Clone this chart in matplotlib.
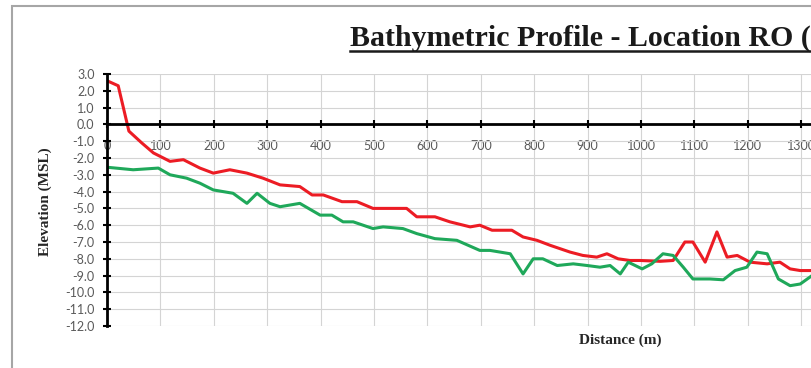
import matplotlib
matplotlib.use("Agg")
import matplotlib.pyplot as plt
from matplotlib.patches import Rectangle
from matplotlib.lines import Line2D

plt.rcParams['axes.unicode_minus'] = False

# Data (distance in m, elevation in m MSL)
red_x = [0, 21, 41, 65, 87, 118, 143, 174, 199, 230, 262, 292, 324, 361, 384, 405, 440, 468,
         498, 561, 580, 614, 642, 680, 698, 721, 758, 779, 805, 830, 867, 891, 917, 936, 957,
         979, 998, 1036, 1060, 1082, 1097, 1120, 1142, 1161, 1180, 1204, 1236, 1260, 1279,
         1298, 1320]
red_y = [2.6, 2.3, -0.4, -1.1, -1.7, -2.2, -2.1, -2.6, -2.9, -2.7, -2.9, -3.2, -3.6, -3.7,
         -4.2, -4.2, -4.6, -4.6, -5.0, -5.0, -5.5, -5.5, -5.8, -6.1, -6.0, -6.3, -6.3, -6.7,
         -6.9, -7.2, -7.6, -7.8, -7.9, -7.7, -8.0, -8.1, -8.1, -8.15, -8.1, -7.0, -7.0, -8.2,
         -6.4, -7.9, -7.8, -8.2, -8.3, -8.2, -8.6, -8.7, -8.7]

green_x = [0, 49, 96, 118, 149, 174, 199, 236, 262, 281, 305, 324, 361, 399, 421, 442, 461,
           498, 517, 554, 580, 614, 655, 698, 717, 755, 779, 798, 816, 843, 873, 899, 923,
           942, 961, 976, 1002, 1020, 1041, 1060, 1079, 1097, 1129, 1154, 1176, 1198, 1217,
           1236, 1257, 1279, 1298, 1320]
green_y = [-2.55, -2.7, -2.6, -3.0, -3.2, -3.5, -3.9, -4.1, -4.7, -4.1, -4.7, -4.9, -4.7,
           -5.4, -5.4, -5.8, -5.8, -6.2, -6.1, -6.2, -6.5, -6.8, -6.9, -7.5, -7.5, -7.7,
           -8.9, -8.0, -8.0, -8.4, -8.3, -8.4, -8.5, -8.4, -8.9, -8.2, -8.6, -8.3, -7.7,
           -7.8, -8.5, -9.2, -9.2, -9.25, -8.7, -8.5, -7.6, -7.7, -9.2, -9.6, -9.5, -9.0]

x_ticks = list(range(0, 1400, 100))
y_ticks = [3.0, 2.0, 1.0, 0.0, -1.0, -2.0, -3.0, -4.0, -5.0, -6.0, -7.0, -8.0, -9.0,
           -10.0, -11.0, -12.0]

title_text = "Bathymetric Profile - Location RO ("
x_label = "Distance (m)"
y_label = "Elevation (MSL)"

W, H = 812, 368
fig = plt.figure(figsize=(W / 100, H / 100), dpi=100)

# outer chart frame
fig.patches.append(Rectangle((12 / W, -0.2), 1.5, 1.2 - 6 / H + 0.0, transform=fig.transFigure,
                             fill=False, edgecolor='#a6a6a6', linewidth=1.5))

ax = fig.add_axes([107 / W, (H - 326) / H, (W - 107) / W, (326 - 74) / H])
ax.set_xlim(0, 1320)
ax.set_ylim(-12, 3)

ax.plot(red_x, red_y, color='#ec1c24', lw=2.2, solid_joinstyle='round', zorder=3)
ax.plot(green_x, green_y, color='#1fa85a', lw=2.2, solid_joinstyle='round', zorder=3)

ax.set_xticks(x_ticks)
ax.set_yticks(y_ticks)
ax.set_xticklabels([str(t) for t in x_ticks])
ax.set_yticklabels(["%.1f" % t for t in y_ticks])
ax.grid(True, color='#d4d4d4', lw=0.8, zorder=0)
ax.set_axisbelow(True)

for s in ['top', 'right']:
    ax.spines[s].set_visible(False)
ax.spines['bottom'].set_position(('data', 0))
ax.spines['bottom'].set_linewidth(2)
ax.spines['left'].set_linewidth(2)
ax.spines['bottom'].set_zorder(4)
ax.spines['left'].set_zorder(4)

ax.tick_params(axis='both', direction='inout', length=6, width=1.5, color='black',
               labelcolor='#595959', labelsize=9)
ax.tick_params(axis='y', pad=6)
ax.tick_params(axis='x', pad=8)
for lab in ax.get_xticklabels() + ax.get_yticklabels():
    lab.set_family('Lato')

fig.text(350 / W, 1 - 46 / H, title_text, fontsize=21.5, fontweight='bold',
         family='Liberation Serif', ha='left', va='baseline', color='#1a1a1a')
fig.add_artist(Line2D([350 / W, 1.0], [1 - 51 / H, 1 - 51 / H], transform=fig.transFigure,
                      color='#1a1a1a', lw=1.8))

fig.text(620 / W, 1 - 340 / H, x_label, fontsize=11, fontweight='bold',
         family='Liberation Serif', ha='center', va='center', color='#262626')
fig.text(45 / W, 1 - 202 / H, y_label, fontsize=11, fontweight='bold', rotation=90,
         family='Liberation Serif', ha='center', va='center', color='#262626')

fig.savefig("out.png", dpi=100)
